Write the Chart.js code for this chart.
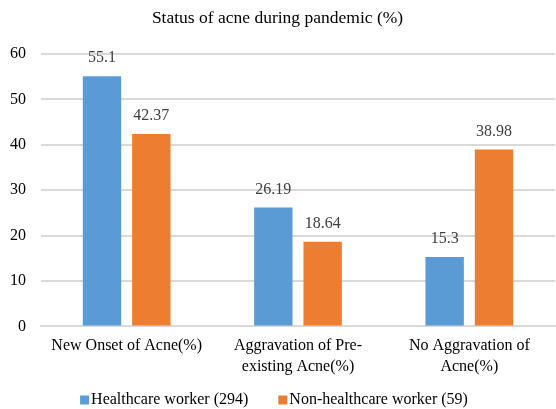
<!DOCTYPE html>
<html><head><meta charset="utf-8">
<script src="https://cdn.jsdelivr.net/npm/chart.js@4.4.0/dist/chart.umd.min.js"></script>
<style>html,body{margin:0;padding:0;background:#fff}#wrap{width:556px;height:409px}</style>
</head><body><div id="wrap"><canvas id="c" width="556" height="409"></canvas></div>
<script>
const categories = [["New Onset of Acne(%)"], ["Aggravation of Pre-", "existing Acne(%)"], ["No Aggravation of", "Acne(%)"]];
const healthcare = [55.1, 26.19, 15.3];
const nonHealthcare = [42.37, 18.64, 38.98];
const seriesNames = ["Healthcare worker (294)", "Non-healthcare worker (59)"];
const yTicks = [0, 10, 20, 30, 40, 50, 60];

const font = "'Liberation Serif', 'Times New Roman', serif";
const labelPlugin = {
  id: 'valLabels',
  afterDatasetsDraw(chart) {
    const ctx = chart.ctx;
    ctx.save();
    ctx.font = "16px " + font;
    ctx.fillStyle = '#404040';
    ctx.textAlign = 'center';
    ctx.textBaseline = 'middle';
    chart.data.datasets.forEach((ds, i) => {
      chart.getDatasetMeta(i).data.forEach((bar, j) => {
        ctx.fillText(String(ds.data[j]), bar.x, bar.y - 18);
      });
    });
    ctx.restore();
  }
};
const legendPlugin = {
  id: 'bottomLegend',
  afterDraw(chart) {
    const ctx = chart.ctx;
    ctx.save();
    ctx.font = "16px " + font;
    ctx.textBaseline = 'middle';
    ctx.textAlign = 'left';
    const box = 9, gapText = 2, gapItem = 30, cy = 400;
    const items = chart.data.datasets.map(ds => ({text: ds.label, color: ds.backgroundColor, w: box + gapText + ctx.measureText(ds.label).width}));
    const total = items.reduce((s, it) => s + it.w, 0) + gapItem * (items.length - 1);
    let x = (chart.width - total) / 2 - 4;
    items.forEach(it => {
      ctx.fillStyle = it.color;
      ctx.fillRect(x, cy - box / 2, box, box);
      ctx.fillStyle = '#000';
      ctx.fillText(it.text, x + box + gapText, cy);
      x += it.w + gapItem;
    });
    ctx.restore();
  }
};

new Chart(document.getElementById('c'), {
  type: 'bar',
  data: {
    labels: categories,
    datasets: [
      {label: seriesNames[0], data: healthcare, backgroundColor: '#5B9BD5', categoryPercentage: 0.576, barPercentage: 0.778},
      {label: seriesNames[1], data: nonHealthcare, backgroundColor: '#ED7D31', categoryPercentage: 0.576, barPercentage: 0.778}
    ]
  },
  options: {
    responsive: false,
    animation: false,
    devicePixelRatio: 1,
    layout: {padding: {left: 0, right: 1, top: 0, bottom: 23}},
    plugins: {
      title: {display: true, text: 'Status of acne during pandemic (%)', color: '#000', font: {family: font, size: 17.5, weight: 'normal'}, padding: {top: 8, bottom: 25}},
      legend: {display: false},
      tooltip: {enabled: false}
    },
    scales: {
      x: {
        grid: {display: false, drawTicks: false},
        border: {display: true, color: '#d9d9d9', width: 2},
        ticks: {color: '#000', font: {family: font, size: 16, lineHeight: 1.3}, maxRotation: 0, autoSkip: false, padding: 9},
        afterFit(axis) { axis.paddingLeft = 0; axis.paddingRight = 0; }
      },
      y: {
        min: 0, max: 60,
        afterBuildTicks: (axis) => { axis.ticks = yTicks.map(v => ({value: v})); },
        afterFit(axis) { axis.width = 41; },
        grid: {color: '#d9d9d9', lineWidth: 2, drawTicks: false},
        border: {display: false},
        ticks: {color: '#000', font: {family: font, size: 16}, padding: 15}
      }
    }
  },
  plugins: [labelPlugin, legendPlugin]
});
</script></body></html>
